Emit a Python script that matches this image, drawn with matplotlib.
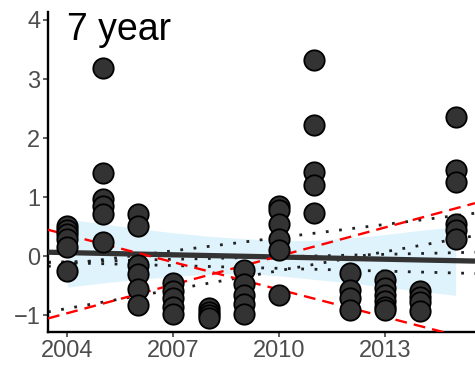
import numpy as np
import matplotlib.pyplot as plt

plt.rcParams['font.family'] = ['Liberation Sans', 'DejaVu Sans']

# observed values, one list per year
obs_2004 = [0.52, 0.44, 0.38, 0.30, 0.15, -0.25]
obs_2005 = [3.18, 1.41, 0.97, 0.85, 0.72, 0.24]
obs_2006 = [0.72, 0.51, -0.15, -0.30, -0.56, -0.83]
obs_2007 = [-0.45, -0.58, -0.70, -0.85, -0.97]
obs_2008 = [-0.87, -0.95, -1.00, -1.04]
obs_2009 = [-0.23, -0.47, -0.65, -0.80, -0.97]
obs_2010 = [0.86, 0.79, 0.55, 0.30, 0.11, -0.66]
obs_2011 = [3.32, 2.22, 1.42, 1.20, 0.73]
obs_2012 = [-0.28, -0.57, -0.70, -0.90]
obs_2013 = [-0.40, -0.53, -0.65, -0.75, -0.85, -0.90]
obs_2014 = [-0.58, -0.68, -0.78, -0.92]
obs_2015 = [2.36, 1.46, 1.26, 0.55, 0.45, 0.30]
obs_years = list(range(2004, 2016))
obs_groups = [obs_2004, obs_2005, obs_2006, obs_2007, obs_2008, obs_2009,
              obs_2010, obs_2011, obs_2012, obs_2013, obs_2014, obs_2015]

# linear fit and its confidence band
line_x = [2003.45, 2015.55]
fit_y = [0.07, -0.08]
band_years = list(range(2004, 2016))
band_upper = [0.63, 0.55, 0.47, 0.40, 0.34, 0.30, 0.27, 0.27, 0.31, 0.37, 0.44, 0.50]
band_lower = [-0.52, -0.45, -0.39, -0.34, -0.30, -0.29, -0.33, -0.39, -0.45, -0.52, -0.59, -0.66]

# red dashed lines (ends at line_x)
red_down = [0.45, -1.42]
red_up = [-1.05, 0.90]

# dotted lines (ends at line_x)
dot_a = [-0.17, 0.73]
dot_b = [-0.10, -0.29]
dot_c = [-0.94, 0.35]
dot_d = [-0.10, 0.07]

x_ticks = [2004, 2007, 2010, 2013]
y_ticks = [-1, 0, 1, 2, 3, 4]

fig = plt.figure(figsize=(4.75, 3.67), dpi=100)
ax = fig.add_axes([48 / 475, 35 / 367, 427 / 475, 320 / 367])

ax.fill_between(band_years, band_lower, band_upper, color='#DFF3FC', lw=0, zorder=1)
for d in [dot_a, dot_b, dot_c, dot_d]:
    ax.plot(line_x, d, color='#222222', lw=2.0, linestyle=(0, (1, 3.8)), zorder=2)
ax.plot(line_x, fit_y, color='#333333', lw=3.8, solid_capstyle='butt', zorder=3)
ax.plot(line_x, red_down, color='red', lw=1.7, linestyle=(0, (5, 3)), zorder=4)
ax.plot(line_x, red_up, color='red', lw=1.7, linestyle=(0, (5, 3)), zorder=4)

xs = [yr for yr, g in zip(obs_years, obs_groups) for _ in g]
ys = [v for g in obs_groups for v in g]
ax.scatter(xs, ys, s=215, c='#333333', edgecolors='black', linewidths=1.3, zorder=5)

ax.set_xlim(2003.45, 2015.55)
ax.set_ylim(-1.28, 4.135)
ax.set_xticks(x_ticks)
ax.set_yticks(y_ticks)
ax.set_yticklabels(['\u22121', '0', '1', '2', '3', '4'])

for s in ['top', 'right']:
    ax.spines[s].set_visible(False)
for s in ['left', 'bottom']:
    ax.spines[s].set_linewidth(1.7)
    ax.spines[s].set_color('black')
ax.tick_params(length=3.5, width=1.1, color='#333333', labelcolor='#4D4D4D',
               labelsize=17, pad=2)

ax.text(0.045, 1.0, '7 year', transform=ax.transAxes, ha='left', va='top',
        fontsize=27, color='black')

fig.savefig('out.png', dpi=100)
